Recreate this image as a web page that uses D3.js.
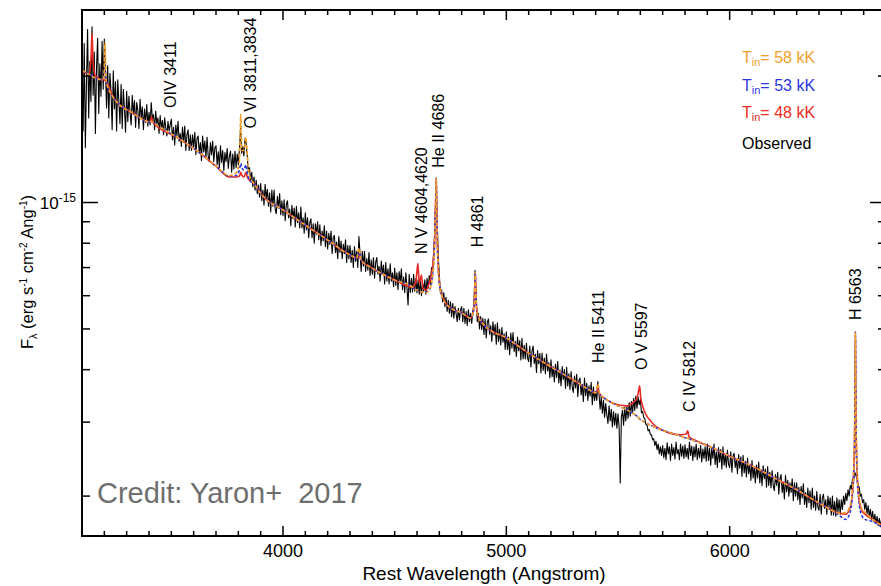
<!DOCTYPE html>
<html><head><meta charset="utf-8">
<script src="https://cdn.jsdelivr.net/npm/d3@7"></script>
<style>
body{margin:0;background:#fff}
svg{display:block}
text{font-family:Helvetica,Arial,"Liberation Sans",sans-serif}
</style>
</head><body>
<svg id="c" width="881" height="586"></svg>
<script>
// flux values in units of 1e-16 erg s^-1 cm^-2 A^-1
const UNIT = 1e-16;

// observed spectrum: each row = [start wavelength, 20 samples spaced 5 A]
const OBS_STEP = 5;
const observedRows = [
[3100,20.5,14.8,23.9,13.5,19.2,25.8,15.9,21.7,17.4,26.2,18.0,22.8,14.6,20.9,24.6,16.3,21.4,17.9,24.2,18.6],
[3200,24.5,20.5,16.8,21.2,15.9,20.3,18.4,14.9,20.6,16.7,19.4,14.8,19.6,17.5,15.4,19.1,15.0,18.6,16.8,14.7],
[3300,18.4,15.6,17.9,16.4,15.3,18.0,16.2,17.5,15.1,17.3,16.6,15.0,17.6,15.8,16.9,14.9,16.7,15.5,17.1,15.2],
[3400,16.4,15.3,17.3,15.8,16.2,14.9,16.5,15.4,15.9,14.6,16.1,15.0,15.7,14.5,15.9,15.1,14.4,15.6,14.8,15.3],
[3500,15.8,14.1,15.1,13.7,15.3,14.4,15.6,14.0,14.6,13.6,15.1,13.9,15.2,13.3,14.5,14.9,13.3,14.5,13.3,14.5],
[3600,13.5,14.7,13.0,14.2,14.4,13.1,13.9,12.6,14.4,13.2,14.0,12.8,14.3,12.9,12.5,13.9,13.0,14.0,12.5,13.5],
[3700,13.65,12.3,13.2,12.1,13.65,12.45,13.3,11.9,13.15,12.5,13.45,12.05,12.9,13.25,11.8,13.05,12.0,13.25,12.1,13.05],
[3800,12.3,13.4,15.0,13.1,13.6,12.9,14.2,13.8,12.9,11.8,12.1,11.3,11.8,10.9,11.5,10.7,11.3,10.5,11.0,10.3],
[3900,11.1,10.1,10.7,9.85,11.05,10.2,10.75,9.8,10.55,9.5,10.7,9.8,10.7,9.65,9.4,10.35,9.7,10.5,9.35,10.1],
[4000,9.3,10.15,9.05,9.9,10.1,9.2,9.65,8.8,9.85,9.15,9.7,8.75,9.8,8.95,9.45,8.7,9.75,8.7,9.2,8.45],
[4100,9.45,8.6,9.2,8.25,8.95,9.15,8.25,8.9,8.0,8.9,8.4,9.0,8.15,8.85,7.9,8.55,8.1,8.8,7.85,8.55],
[4200,7.75,8.45,7.95,8.55,7.55,8.25,8.35,7.6,8.05,7.35,8.3,7.6,8.1,7.35,7.95,7.55,8.15,7.2,7.9,7.35],
[4300,7.9,7.2,7.7,7.0,7.85,7.25,7.65,7.0,8.3,7.55,6.85,7.65,7.05,7.65,6.85,7.35,6.9,7.6,6.7,7.3],
[4400,6.75,7.4,6.6,7.2,7.4,6.75,7.05,6.5,7.25,6.75,7.1,6.4,7.2,6.5,6.95,6.4,7.15,6.5,6.8,6.3],
[4500,6.98,6.35,6.8,6.2,6.85,6.45,6.95,6.2,6.65,6.1,6.8,6.28,5.7,6.75,6.1,6.6,6.12,6.75,6.15,6.58],
[4600,6.1,6.55,6.05,6.5,6.0,6.45,6.15,6.55,6.05,6.6,6.25,6.7,6.4,7.0,6.9,7.7,8.6,10.8,9.2,7.5],
[4700,6.7,6.1,6.2,5.8,6.1,5.65,5.95,5.5,5.85,5.45,5.8,5.35,5.75,5.3,5.65,5.45,5.2,5.6,5.25,5.55],
[4800,5.65,5.2,5.6,5.15,5.5,5.1,5.55,5.2,5.45,5.15,5.5,5.75,6.9,5.85,5.2,5.45,5.0,5.35,4.98,5.3],
[4900,4.85,5.28,4.76,5.2,5.28,4.86,5.09,4.67,5.2,4.83,5.12,4.6,5.17,4.67,4.99,4.58,5.04,4.65,4.87,4.47],
[5000,4.92,4.47,4.78,4.34,4.89,4.5,4.9,4.42,4.67,4.3,4.78,4.44,4.69,4.22,4.75,4.24,4.57,4.24,4.62,4.26],
[5100,4.18,4.55,4.06,4.43,4.55,4.14,4.35,3.94,4.44,4.13,4.37,3.93,4.38,3.98,4.26,3.91,4.36,3.97,4.16,3.82],
[5200,4.22,3.85,4.07,3.74,4.12,3.83,4.18,3.72,3.99,3.66,4.07,3.79,4.0,3.61,4.05,3.66,3.91,3.59,3.96,3.64],
[5300,3.53,3.86,3.62,3.9,3.45,3.77,3.82,3.48,3.69,3.36,3.82,3.47,3.71,3.38,3.66,3.46,3.73,3.3,3.64,3.38],
[5400,3.55,3.38,3.75,3.5,3.22,3.45,3.15,3.38,3.08,3.32,3.12,2.98,3.28,3.02,3.22,2.92,3.18,2.95,3.15,2.9],
[5500,3.14,2.92,2.15,3.08,3.2,2.95,3.26,3.02,3.28,3.06,3.34,3.1,3.36,3.14,3.42,3.2,3.46,3.24,3.44,3.3],
[5600,3.4,3.16,3.18,3.08,3.06,2.96,2.95,2.86,2.88,2.8,2.8,2.72,2.74,2.64,2.7,2.58,2.66,2.52,2.62,2.5],
[5700,2.64,2.47,2.6,2.44,2.68,2.52,2.62,2.43,2.66,2.5,2.61,2.45,2.69,2.52,2.58,2.44,2.66,2.49,2.63,2.46],
[5800,2.65,2.48,2.6,2.45,2.69,2.5,2.63,2.43,2.62,2.48,2.66,2.44,2.6,2.47,2.64,2.41,2.59,2.46,2.62,2.42],
[5900,2.66,2.43,2.6,2.37,2.61,2.46,2.66,2.38,2.55,2.34,2.61,2.41,2.58,2.32,2.62,2.37,2.51,2.34,2.57,2.38],
[6000,2.34,2.55,2.28,2.49,2.53,2.34,2.45,2.26,2.51,2.33,2.48,2.23,2.5,2.27,2.42,2.22,2.46,2.26,2.38,2.18],
[6100,2.43,2.21,2.35,2.15,2.37,2.21,2.41,2.15,2.31,2.12,2.36,2.2,2.32,2.1,2.35,2.12,2.28,2.09,2.3,2.12],
[6200,2.06,2.25,2.12,2.28,2.02,2.2,2.25,2.04,2.16,1.97,2.24,2.05,2.18,2.0,2.15,2.04,2.2,1.95,2.15,2.0],
[6300,2.15,1.96,2.1,1.91,2.11,1.98,2.14,1.91,2.04,1.88,2.09,1.93,2.06,1.86,2.09,1.88,2.0,1.85,2.05,1.88],
[6400,1.85,2.02,1.81,1.98,2.02,1.87,1.96,1.81,2.0,1.88,1.98,1.8,2.0,1.8,1.94,1.79,1.98,1.83,1.96,1.81],
[6500,1.96,1.86,2.0,1.91,2.03,1.95,2.07,2.0,2.12,2.08,2.2,2.18,2.28,2.24,2.2,2.12,2.1,2.0,2.02,1.93],
[6600,1.96,1.86,1.93,1.81,1.9,1.79,1.86,1.76,1.84,1.74,1.81,1.72,1.79,1.7,1.77,1.69,1.76,1.68,1.74,1.67]
];

const modelWave = [3100,3130,3140,3145,3150,3160,3190,3198,3203,3208,3240,3330,3405,3411,3418,3525,3630,3700,3760,3790,3805,3811,3816,3825,3834,3840,3850,3870,3910,4000,4100,4200,4300,4330,4340,4350,4400,4500,4580,4595,4604,4610,4620,4626,4640,4655,4666,4675,4681,4684,4686,4688,4691,4696,4705,4720,4750,4800,4840,4852,4858,4861,4864,4870,4900,5000,5100,5200,5300,5380,5400,5408,5411,5415,5450,5500,5540,5570,5585,5593,5597,5601,5610,5650,5700,5780,5805,5812,5818,5850,5900,6000,6100,6200,6300,6400,6450,6490,6520,6535,6548,6556,6560,6563,6566,6570,6578,6591,6606,6640,6700];
const model58 = [20.7,20.2,20.1,20.0,19.9,19.8,19.6,19.8,24.0,19.5,17.8,16.3,15.55,15.6,15.5,14.3,13.1,12.2,11.6,11.76,12.6,16.2,13.3,13.3,14.3,13.0,11.6,11.1,10.36,9.6,8.84,8.14,7.5,7.38,7.79,7.29,6.98,6.54,6.29,6.19,6.19,6.16,6.12,6.12,6.09,6.19,6.47,7.21,8.6,10.14,11.44,10.14,8.14,6.9,6.19,5.86,5.61,5.46,5.31,5.49,6.02,6.83,6.02,5.43,5.11,4.76,4.38,4.06,3.78,3.56,3.52,3.68,3.70,3.54,3.39,3.28,3.21,3.14,3.10,3.07,3.05,3.04,3.02,2.94,2.87,2.78,2.75,2.75,2.74,2.70,2.64,2.49,2.36,2.21,2.07,1.925,1.86,1.82,1.83,1.87,2.01,2.37,3.04,4.92,3.04,2.37,2.01,1.87,1.83,1.76,1.68];
const model53 = [20.7,20.2,20.1,20.0,19.9,19.8,19.6,19.7,21.25,19.4,17.8,16.3,15.55,15.6,15.5,14.3,13.1,12.2,11.56,11.6,11.95,12.4,12.1,11.95,12.3,11.76,11.3,11.1,10.36,9.6,8.84,8.14,7.5,7.38,7.71,7.29,6.98,6.54,6.29,6.19,6.19,6.16,6.12,6.12,6.12,6.19,6.47,7.21,8.6,10.14,11.44,10.14,8.14,6.9,6.19,5.86,5.61,5.46,5.31,5.49,6.02,6.83,6.02,5.43,5.11,4.76,4.38,4.06,3.78,3.56,3.52,3.62,3.68,3.52,3.39,3.28,3.21,3.14,3.10,3.07,3.05,3.04,3.02,2.94,2.87,2.78,2.75,2.75,2.74,2.70,2.64,2.49,2.36,2.21,2.07,1.925,1.86,1.80,1.76,1.80,1.96,2.31,2.87,4.92,2.87,2.31,1.96,1.80,1.76,1.74,1.66];
const model48 = [20.7,20.2,21.8,25.3,21.6,20.0,19.6,19.6,19.5,19.4,17.8,16.3,15.55,16.0,15.5,14.3,13.1,12.2,11.5,11.5,11.56,11.8,11.6,11.5,11.8,11.5,11.3,11.1,10.36,9.6,8.84,8.14,7.5,7.38,7.5,7.29,6.98,6.54,6.29,6.47,7.17,6.43,6.72,6.26,6.19,6.43,6.79,7.5,8.84,10.4,11.44,10.14,8.14,6.9,6.19,5.86,5.61,5.46,5.31,5.49,6.02,6.83,6.02,5.43,5.11,4.76,4.38,4.06,3.78,3.56,3.52,3.58,3.62,3.52,3.39,3.30,3.28,3.35,3.42,3.58,3.66,3.46,3.28,3.0,2.87,2.80,2.81,2.86,2.77,2.71,2.64,2.49,2.36,2.21,2.07,1.925,1.86,1.82,1.81,1.85,1.99,2.33,2.95,4.71,2.95,2.33,1.99,1.85,1.81,1.76,1.68];

const seriesNames = ["Tin= 58 kK","Tin= 53 kK","Tin= 48 kK","Observed"];
const seriesColors = ["#f29f2a","#2b36e0","#ea2a24","#000000"];
const legendTemps = ["58","53","48"];

const xMajorTicks = [4000,5000,6000];
const yMajorTicks = [1e-15];
const yMinorTicks = [2e-16,3e-16,4e-16,5e-16,6e-16,7e-16,8e-16,9e-16,2e-15];

const lineLabels = ["OIV 3411","O VI 3811,3834","N V 4604,4620","He II 4686","H 4861","He II 5411","O V 5597","C IV 5812","H 6563"];
const lineLabelWave = [3494,3852,4617,4693,4867,5409,5601,5816,6563];
const lineLabelFlux = [16.8,15.0,7.54,12.1,7.83,4.15,3.99,3.17,5.25];

const observed = [];
observedRows.forEach(r=>{ r.slice(1).forEach((v,j)=>observed.push([r[0]+j*OBS_STEP, v])); });

const svg = d3.select("#c");
const L = 82, R = 886, T = 10, B = 536;
const x = d3.scaleLinear().domain([3100,6700]).range([L,R]);
const y = d3.scaleLog().domain([1.607e-16,2.873e-15]).range([B,T]);

svg.append("defs").append("clipPath").attr("id","clip")
  .append("rect").attr("x",L).attr("y",T).attr("width",R-L).attr("height",B-T);

const plot = svg.append("g").attr("clip-path","url(#clip)");

const lineObs = d3.line().x(d=>x(d[0])).y(d=>y(d[1]*UNIT));
plot.append("path").datum(observed).attr("d",lineObs)
  .attr("fill","none").attr("stroke","#000").attr("stroke-width",1.1).attr("stroke-linejoin","round");

const lineModel = d3.line().x(d=>x(d[0])).y(d=>y(d[1]*UNIT)).curve(d3.curveMonotoneX);
const models = [
  {vals:model48, color:seriesColors[2], dash:null, w:1.6},
  {vals:model53, color:seriesColors[1], dash:"3,2", w:1.6},
  {vals:model58, color:seriesColors[0], dash:"4,2", w:1.6}
];
models.forEach(m=>{
  plot.append("path").datum(modelWave.map((w,i)=>[w,m.vals[i]]))
    .attr("d",lineModel).attr("fill","none").attr("stroke",m.color)
    .attr("stroke-width",m.w).attr("stroke-dasharray",m.dash);
});

// frame
svg.append("rect").attr("x",L).attr("y",T).attr("width",R-L).attr("height",B-T)
  .attr("fill","none").attr("stroke","#000").attr("stroke-width",2);

// ticks (inward on all sides)
const xMinor = d3.range(3200,6700,100).filter(v=>!xMajorTicks.includes(v));
const tk = svg.append("g").attr("stroke","#000").attr("stroke-width",1.5);
xMinor.forEach(v=>{
  tk.append("line").attr("x1",x(v)).attr("x2",x(v)).attr("y1",B).attr("y2",B-5);
  tk.append("line").attr("x1",x(v)).attr("x2",x(v)).attr("y1",T).attr("y2",T+5);
});
xMajorTicks.forEach(v=>{
  tk.append("line").attr("x1",x(v)).attr("x2",x(v)).attr("y1",B).attr("y2",B-10);
  tk.append("line").attr("x1",x(v)).attr("x2",x(v)).attr("y1",T).attr("y2",T+10);
});
yMinorTicks.forEach(v=>{
  tk.append("line").attr("x1",L).attr("x2",L+8).attr("y1",y(v)).attr("y2",y(v));
  tk.append("line").attr("x1",R).attr("x2",R-8).attr("y1",y(v)).attr("y2",y(v));
});
yMajorTicks.forEach(v=>{
  tk.append("line").attr("x1",L).attr("x2",L+16).attr("y1",y(v)).attr("y2",y(v));
  tk.append("line").attr("x1",R).attr("x2",R-16).attr("y1",y(v)).attr("y2",y(v));
});

// x tick labels
xMajorTicks.forEach(v=>{
  svg.append("text").attr("x",x(v)).attr("y",557).attr("text-anchor","middle")
    .attr("font-size",18).text(v);
});
svg.append("text").attr("x",484).attr("y",580).attr("text-anchor","middle")
  .attr("font-size",19).text("Rest Wavelength (Angstrom)");

// y tick label 10^-15
yMajorTicks.forEach(v=>{
  const t = svg.append("text").attr("x",L-6).attr("y",y(v)+6).attr("text-anchor","end").attr("font-size",17);
  t.append("tspan").text("10");
  t.append("tspan").attr("dy",-7).attr("font-size",12).text("-" + Math.round(-Math.log10(v)));
});

// y label
const yl = svg.append("text").attr("transform","translate(33,272) rotate(-90)")
  .attr("text-anchor","middle").attr("font-size",16.5);
yl.append("tspan").text("F");
yl.append("tspan").attr("dy",4).attr("font-size",11).text("λ");
yl.append("tspan").attr("dy",-4).text(" (erg s");
yl.append("tspan").attr("dy",-6).attr("font-size",10).text("-1");
yl.append("tspan").attr("dy",6).text(" cm");
yl.append("tspan").attr("dy",-6).attr("font-size",10).text("-2");
yl.append("tspan").attr("dy",6).text(" Ang");
yl.append("tspan").attr("dy",-6).attr("font-size",10).text("-1");
yl.append("tspan").attr("dy",6).text(")");

// line labels
lineLabels.forEach((lab,i)=>{
  svg.append("text")
    .attr("transform",`translate(${x(lineLabelWave[i])+6},${y(lineLabelFlux[i]*UNIT)}) rotate(-90)`)
    .attr("font-size",16).attr("fill","#000").text(lab);
});

// legend
const lg = svg.append("g");
legendTemps.forEach((tmp,i)=>{
  const t = lg.append("text").attr("x",742).attr("y",63+i*27.5).attr("font-size",16).attr("fill",seriesColors[i]);
  t.append("tspan").text("T");
  t.append("tspan").attr("dy",3).attr("font-size",11).text("in");
  t.append("tspan").attr("dy",-3).text("= " + tmp + " kK");
});
lg.append("text").attr("x",742).attr("y",149).attr("font-size",16).attr("fill",seriesColors[3]).text(seriesNames[3]);

// credit
svg.append("text").attr("x",97).attr("y",503).attr("font-size",29).attr("fill","#6e6e6e")
  .style("white-space","pre").text("Credit: Yaron+  2017");
</script>
</body></html>
